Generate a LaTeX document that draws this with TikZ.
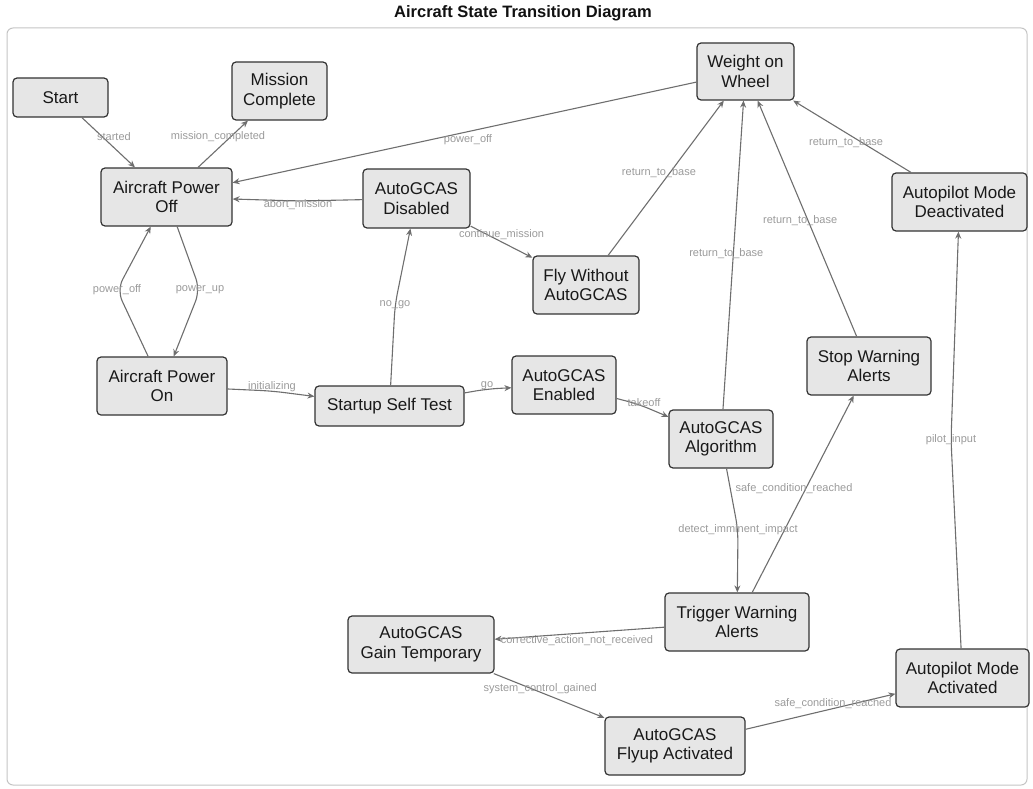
\documentclass[tikz,border=0pt]{standalone}
\usepackage{fontspec}
\setmainfont{Liberation Sans}
\usetikzlibrary{arrows.meta}
\definecolor{boxfill}{HTML}{E6E6E6}
\definecolor{boxline}{HTML}{333333}
\definecolor{edgeline}{HTML}{6E6E6E}
\definecolor{lbltext}{HTML}{9A9A9A}
\definecolor{framecol}{HTML}{C4C4C4}
\definecolor{titlecol}{HTML}{111111}

\begin{document}
\begin{tikzpicture}[x=1pt,y=-1pt,
  state/.style={draw=boxline, fill=boxfill, line width=1.2pt, rounded corners=4pt,
    inner sep=0pt, align=center, text=black!90, font=\fontsize{17}{19.5}\selectfont},
  edge/.style={draw=edgeline, line width=1.1pt, -{Stealth[length=7pt,width=6pt]}},
  bent/.style={edge, rounded corners=12pt},
  lbl/.style={text=lbltext, font=\fontsize{11}{13}\selectfont, inner sep=0pt}]
\useasboundingbox (0,0) rectangle (1033,789);

% title and outer frame
\node[text=titlecol, font=\bfseries\fontsize{16.5}{18}\selectfont] (title) at (523,13) {Aircraft State Transition Diagram};
\draw[framecol, line width=1pt, rounded corners=6pt] (7,28) rectangle (1027,785);

% states
\node[state, minimum width=95pt,  minimum height=39pt] (start) at (60.5,97.5) {Start};
\node[state, minimum width=95pt,  minimum height=58pt] (mcomp) at (279.5,91) {Mission\\Complete};
\node[state, minimum width=131pt, minimum height=58pt] (poff)  at (166.5,197) {Aircraft Power\\Off};
\node[state, minimum width=107pt, minimum height=59pt] (dis)   at (416.5,198.5) {AutoGCAS\\Disabled};
\node[state, minimum width=97pt,  minimum height=57pt] (wow)   at (745.5,71.5) {Weight on\\Wheel};
\node[state, minimum width=135pt, minimum height=58pt] (apdeact) at (959.5,202) {Autopilot Mode\\Deactivated};
\node[state, minimum width=106pt, minimum height=58pt] (flyw)  at (586,285) {Fly Without\\AutoGCAS};
\node[state, minimum width=130pt, minimum height=58pt] (pon)   at (162,386) {Aircraft Power\\On};
\node[state, minimum width=149pt, minimum height=40pt] (selft) at (389.5,406) {Startup Self Test};
\node[state, minimum width=104pt, minimum height=58pt] (ena)   at (564,385) {AutoGCAS\\Enabled};
\node[state, minimum width=104pt, minimum height=58pt] (algo)  at (721,439) {AutoGCAS\\Algorithm};
\node[state, minimum width=124pt, minimum height=58pt] (stopw) at (869,366) {Stop Warning\\Alerts};
\node[state, minimum width=144pt, minimum height=58pt] (trigw) at (737,622) {Trigger Warning\\Alerts};
\node[state, minimum width=146pt, minimum height=57pt] (gain)  at (421,644.5) {AutoGCAS\\Gain Temporary};
\node[state, minimum width=140pt, minimum height=58pt] (flyup) at (675,746) {AutoGCAS\\Flyup Activated};
\node[state, minimum width=133pt, minimum height=58pt] (apact) at (962.5,678) {Autopilot Mode\\Activated};

% bend points of the curved transitions
\coordinate (wAbort) at (298,201);
\coordinate (wUp)    at (200,290);
\coordinate (wOff)   at (117,290);
\coordinate (wInit)  at (272,391);
\coordinate (wNoGo)  at (395,305);
\coordinate (wGo)    at (487,389);
\coordinate (wTake)  at (638,404);
\coordinate (wDet)   at (738,530);
\coordinate (wPilot) at (951,440);

% straight transitions
\draw[edge] (start) -- node[lbl, xshift=5.5pt, yshift=5.5pt] {started} (poff);
\draw[edge] (poff) -- node[lbl, xshift=-5pt, yshift=7pt] {mission\_completed} (mcomp);
\draw[edge] (wow) -- node[lbl, xshift=3.5pt, yshift=-7.5pt] {power\_off} (poff);
\draw[edge] (dis) -- node[lbl, yshift=7pt] {continue\_mission} (flyw);
\draw[edge] (flyw) -- node[lbl, xshift=-7pt, yshift=5pt] {return\_to\_base} (wow);
\draw[edge] (algo) -- node[lbl, xshift=-7pt, yshift=1pt] {return\_to\_base} (wow);
\draw[edge] (stopw) -- node[lbl, xshift=-7pt, yshift=-2.5pt] {return\_to\_base} (wow);
\draw[edge] (apdeact) -- node[lbl, xshift=-6pt, yshift=-6pt] {return\_to\_base} (wow);
\draw[edge] (trigw) -- node[lbl, xshift=-9pt, yshift=5pt] {safe\_condition\_reached} (stopw);
\draw[edge] (trigw) -- node[lbl, xshift=-2.5pt, yshift=-7pt] {corrective\_action\_not\_received} (gain);
\draw[edge] (gain) -- node[lbl, xshift=-9pt, yshift=7pt] {system\_control\_gained} (flyup);
\draw[edge] (flyup) -- node[lbl, xshift=12.5pt, yshift=7.5pt] {safe\_condition\_reached} (apact);

% transitions through a bend point
\draw[bent] (dis) -- (wAbort) node[lbl, yshift=-4pt] {abort\_mission} -- (poff);
\draw[bent] (poff) -- (wUp) node[lbl] {power\_up} -- (pon);
\draw[bent] (pon) -- (wOff) node[lbl] {power\_off} -- (poff);
\draw[bent] (pon) -- (wInit) node[lbl, yshift=4pt] {initializing} -- (selft);
\draw[bent] (selft) -- (wNoGo) node[lbl] {no\_go} -- (dis);
\draw[bent] (selft) -- (wGo) node[lbl, yshift=3pt] {go} -- (ena);
\draw[bent] (ena) -- (wTake) node[lbl, xshift=6pt, yshift=1pt] {takeoff} -- (algo);
\draw[bent] (algo) -- (wDet) node[lbl] {detect\_imminent\_impact} -- (trigw);
\draw[bent] (apact) -- (wPilot) node[lbl] {pilot\_input} -- (apdeact);
\end{tikzpicture}
\end{document}
